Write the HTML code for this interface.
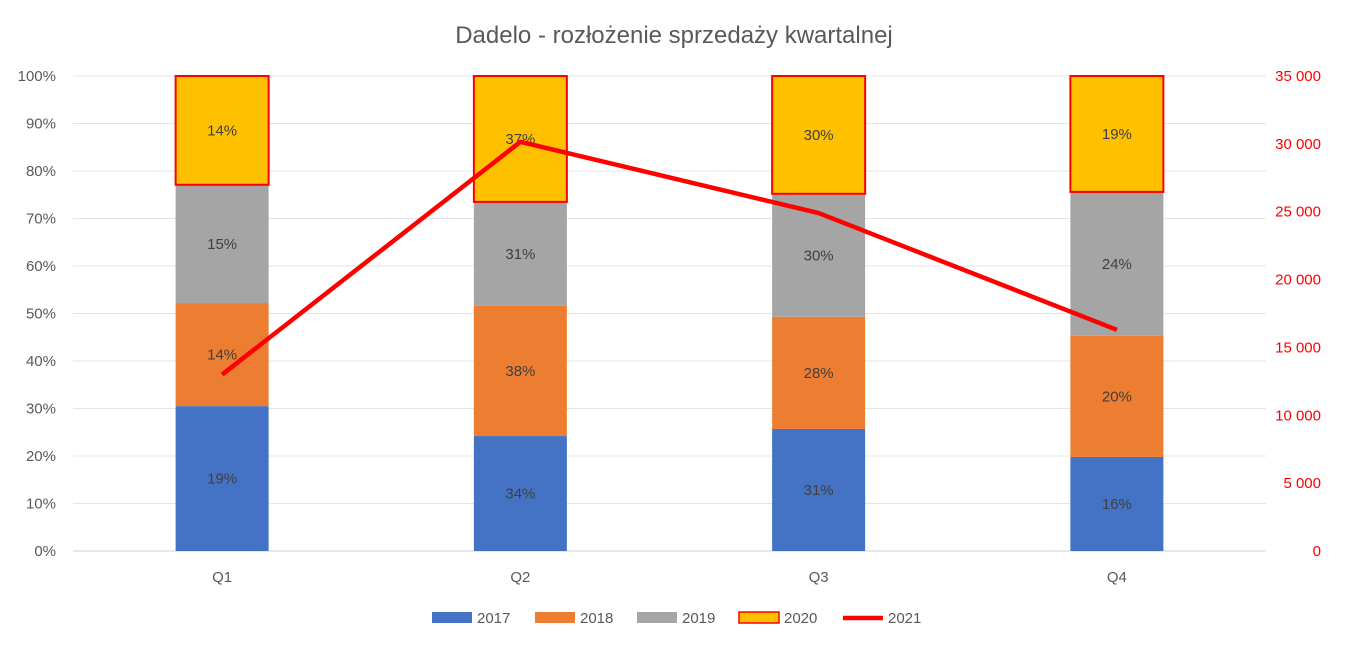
<!DOCTYPE html>
<html><head><meta charset="utf-8"><style>
body{margin:0;background:#fff;font-family:"Liberation Sans",sans-serif;}
svg text{font-family:"Liberation Sans",sans-serif;}
</style></head><body>
<svg id="chart" width="1348" height="648">
<text x="674" y="43" text-anchor="middle" font-size="24" fill="#595959">Dadelo - rozłożenie sprzedaży kwartalnej</text>
<g id="grid"></g><g id="bars"></g><g id="line"></g><g id="axes"></g><g id="legend"></g>
</svg>
<script>
const categories=["Q1","Q2","Q3","Q4"];
const seriesNames=["2017","2018","2019","2020"];
const s2017=[30.5,24.2,25.7,19.8];
const s2018=[21.7,27.4,23.6,25.5];
const s2019=[24.9,21.9,25.9,30.3];
const s2020=[22.9,26.5,24.8,24.4];
const labels2017=["19%","34%","31%","16%"];
const labels2018=["14%","38%","28%","20%"];
const labels2019=["15%","31%","30%","24%"];
const labels2020=["14%","37%","30%","19%"];
const s2021=[13000,30150,24900,16300];
const leftTicks=["0%","10%","20%","30%","40%","50%","60%","70%","80%","90%","100%"];
const rightTicks=["0","5 000","10 000","15 000","20 000","25 000","30 000","35 000"];
const rightMax=35000;

const NS="http://www.w3.org/2000/svg";
const X0=73,X1=1266,Y0=551,Y1=76;
const bw=(X1-X0)/categories.length;
const xc=i=>X0+bw*(i+0.5);
const yL=p=>Y0-(p/100)*(Y0-Y1);
const yR=v=>Y0-(v/rightMax)*(Y0-Y1);
function el(t,a,p){const e=document.createElementNS(NS,t);for(const k in a)e.setAttribute(k,a[k]);p.appendChild(e);return e;}
const grid=document.getElementById('grid'),bars=document.getElementById('bars'),line=document.getElementById('line'),axes=document.getElementById('axes'),legend=document.getElementById('legend');
leftTicks.forEach((t,i)=>{const y=yL(i*10);
 const g=el('line',{x1:X0,x2:X1,y1:y,y2:y,stroke:i==0?'#d0d0d0':'#e4e4e4','stroke-width':1},grid);
 
 
 const tx=el('text',{x:56,y:y+5,'text-anchor':'end','font-size':15,fill:'#595959'},axes);tx.textContent=t;
 
 
});
rightTicks.forEach((t,i)=>{const y=yR(i*5000);
 const tx=el('text',{x:1321,y:y+5,'text-anchor':'end','font-size':15,fill:'#ff0000'},axes);tx.textContent=t;
 
 
});
categories.forEach((c,i)=>{
 const tx=el('text',{x:xc(i),y:582,'text-anchor':'middle','font-size':15,fill:'#595959'},axes);tx.textContent=c;
 
 
});
const series=[s2017,s2018,s2019,s2020];
const lbls=[labels2017,labels2018,labels2019,labels2020];
const fills=['#4472c4','#ed7d31','#a5a5a5','#ffc000'];
categories.forEach((c,i)=>{let cum=0;
 series.forEach((s,k)=>{const ya=yL(cum),yb=yL(cum+s[i]);
  const a={x:xc(i)-46.5,y:yb,width:93,height:ya-yb,fill:fills[k]};
  if(k==3){a.stroke='#ff0000';a['stroke-width']=2;}
  const r=el('rect',a,bars);
  
  
  const tx=el('text',{x:xc(i),y:(ya+yb)/2+5,'text-anchor':'middle','font-size':15,fill:'#404040'},bars);tx.textContent=lbls[k][i];
  
  
  cum+=s[i];});
});
const pl=el('polyline',{points:s2021.map((v,i)=>xc(i)+','+yR(v)).join(' '),fill:'none',stroke:'#ff0000','stroke-width':4.5,'stroke-linejoin':'round'},line);


const lx=[432,535,637,739,843];
seriesNames.forEach((n,k)=>{
 const a={x:lx[k],y:612,width:40,height:11,fill:fills[k]};if(k==3){a.stroke='#ff0000';a['stroke-width']=1.5;}
 const r=el('rect',a,legend);
 
 
 const tx=el('text',{x:lx[k]+45,y:623,'font-size':15,fill:'#595959'},legend);tx.textContent=n;
 
 
});
const ll=el('line',{x1:lx[4],x2:lx[4]+40,y1:618,y2:618,stroke:'#ff0000','stroke-width':4.5},legend);


const lt=el('text',{x:lx[4]+45,y:623,'font-size':15,fill:'#595959'},legend);lt.textContent='2021';


</script>
</body></html>
